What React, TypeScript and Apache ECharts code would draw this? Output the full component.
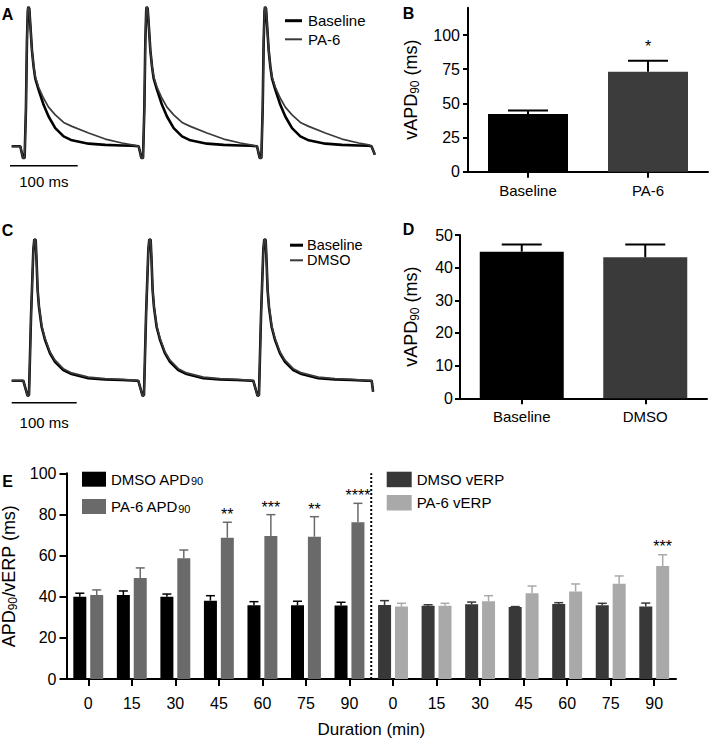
import React, { useEffect, useRef } from 'react';
import * as echarts from 'echarts';

const FONT = '"Liberation Sans", Arial, Helvetica, sans-serif';

// ---------- Panel A : one action potential ----------
// time in ms relative to the peak, amplitude in % of peak (rest = 0)
const beatATime = [-11.8, -7.9, -5.4, -3.4, -2.0, -0.7, 0, 1.5, 3.4, 5.4, 7.9, 10.3, 15.3, 22.6, 30.0, 39.9, 52.2, 64.5, 89.1, 113.7, 138.4, 153.1];
const beatABaseline = [0, -8.3, -8.3, 28, 75, 97, 100, 98.8, 84.5, 69, 57.1, 48.8, 40.5, 29.8, 21.4, 13.1, 7.1, 4.3, 1.9, 1.0, 0.6, 0.5];
const beatAPA6 = [0, -8.3, -8.3, 28, 75, 97, 100, 98.8, 84.5, 69, 57.6, 50, 42.4, 34.5, 28.1, 22.6, 17.1, 14.3, 9.5, 5.2, 2.4, 1.0];
const peaksA = [27.0, 201.9, 376.7];
const leadA = [[2.5, 0]];
const endA = [[534, 0], [539, -6]];

// ---------- Panel C ----------
const beatCTime = [-17, -10.3, -8.2, -5.1, -1.5, 0, 2.1, 3.6, 5.1, 7.2, 11.3, 16.4, 24.1, 31.8, 44.6, 57.4, 83.1, 108.7, 134.4, 158];
const beatCBaseline = [0, -10.8, -10.1, 45, 92.5, 100, 99.5, 83, 64, 52, 38, 29, 19.3, 13.4, 7.5, 4.7, 1.7, 0.9, 0.5, 0];
const beatCDMSO = [0, -10.8, -10.1, 45, 92.5, 100, 99.5, 83, 64.5, 53, 39, 30, 20.5, 14.5, 8.5, 5.5, 2.5, 1.5, 1.0, 0.3];
const peaksC = [34.8, 211.7, 388.6];
const leadC = [[0, 0]];
const endC = [[553.8, 0], [556, -7.8]];

// ---------- Panel B ----------
const bCats = ['Baseline', 'PA-6'];
const bMean = [42.3, 73.2];
const bSem = [2.4, 8.0];
const bStars = ['', '*'];
const bTicks = [0, 25, 50, 75, 100];

// ---------- Panel D ----------
const dCats = ['Baseline', 'DMSO'];
const dMean = [44.9, 43.2];
const dSem = [2.2, 3.9];

// ---------- Panel E ----------
const durations = ['0', '15', '30', '45', '60', '75', '90'];
const dmsoApd = [40.0, 40.8, 40.0, 38.1, 35.8, 35.8, 35.7];
const dmsoApdSem = [1.7, 2.0, 1.3, 2.4, 1.8, 2.0, 1.6];
const pa6Apd = [40.8, 49.1, 58.7, 68.7, 69.5, 69.2, 76.2];
const pa6ApdSem = [2.5, 4.9, 4.0, 7.5, 10.4, 9.7, 9.2];
const pa6ApdStars = ['', '', '', '**', '***', '**', '****'];
const dmsoErp = [36.0, 35.6, 36.3, 35.0, 36.5, 35.8, 35.2];
const dmsoErpSem = [2.1, 0.5, 1.1, 0.2, 0.6, 1.0, 1.7];
const pa6Erp = [35.2, 35.6, 37.8, 41.7, 42.5, 46.3, 54.9];
const pa6ErpSem = [1.6, 1.2, 2.7, 3.5, 3.7, 3.8, 5.5];
const pa6ErpStars = ['', '', '', '', '', '', '***'];

function buildTrace(lead: number[][], peaks: number[], times: number[], values: number[], end: number[][]) {
  const pts: number[][] = lead.map((p) => [...p]);
  peaks.forEach((p) => times.forEach((t, i) => pts.push([p + t, values[i]])));
  end.forEach((p) => pts.push([...p]));
  return pts;
}

function errorSeries(
  xAxisIndex: number, yAxisIndex: number, items: number[][], offset: number, color: string,
  capHalf: number, lineWidth: number, stars: string[] | null, starGap: number, starSize: number,
) {
  return {
    type: 'custom', xAxisIndex, yAxisIndex, silent: true, z: 5,
    data: items,
    renderItem: (params: any, api: any) => {
      const c = api.value(0), m = api.value(1), top = api.value(2);
      const pm = api.coord([c, m]);
      const pt = api.coord([c, top]);
      const x = pm[0] + offset;
      const style = { stroke: color, lineWidth };
      const children: any[] = [
        { type: 'line', shape: { x1: x, y1: pm[1], x2: x, y2: pt[1] }, style },
        { type: 'line', shape: { x1: x - capHalf, y1: pt[1], x2: x + capHalf, y2: pt[1] }, style },
      ];
      const s = stars ? stars[params.dataIndex] : '';
      if (s) {
        children.push({
          type: 'text',
          style: { text: s, x, y: pt[1] - starGap, align: 'center', verticalAlign: 'middle', fontSize: starSize, fontFamily: FONT, fill: '#000' },
        });
      }
      return { type: 'group', children };
    },
  };
}

function scaleBarSeries(xAxisIndex: number, yAxisIndex: number, bar: number[], labelGap: number) {
  return {
    type: 'custom', xAxisIndex, yAxisIndex, silent: true, z: 5,
    data: [bar],
    renderItem: (params: any, api: any) => {
      const p0 = api.coord([api.value(0), api.value(2)]);
      const p1 = api.coord([api.value(1), api.value(2)]);
      return {
        type: 'group',
        children: [
          { type: 'line', shape: { x1: p0[0], y1: p0[1], x2: p1[0], y2: p1[1] }, style: { stroke: '#000', lineWidth: 1.6 } },
          { type: 'text', style: { text: `${api.value(1) - api.value(0)} ms`, x: (p0[0] + p1[0]) / 2, y: p0[1] + labelGap, align: 'center', verticalAlign: 'middle', fontSize: 15, fontFamily: FONT, fill: '#000' } },
        ],
      };
    },
  };
}

const axisLineStyle = { color: '#000', width: 2 };

export default function App() {
  const ref = useRef<HTMLDivElement>(null);
  useEffect(() => {
    if (!ref.current) return;
    const chart = echarts.init(ref.current, undefined, { renderer: 'svg' });

    const eCats = [...durations.map((d) => `APD90 ${d}`), ...durations.map((d) => `vERP ${d}`)];
    const n = durations.length;
    const blanks = durations.map(() => '-');
    const OFF = 8.45;

    const subRich = (size: number, subSize: number, lh: number, subLh: number) => ({
      n: { fontSize: size, fontFamily: FONT, color: '#000', lineHeight: lh },
      s: { fontSize: subSize, fontFamily: FONT, color: '#000', lineHeight: subLh, verticalAlign: 'bottom' },
    });

    const catAxis = (gridIndex: number, data: string[], labelSize: number, margin: number, tickLen: number, formatter?: any) => ({
      type: 'category', gridIndex, data,
      axisLine: { show: true, lineStyle: axisLineStyle },
      axisTick: { show: true, alignWithLabel: true, length: tickLen, lineStyle: { color: '#000', width: 2 } },
      axisLabel: { show: true, interval: 0, fontSize: labelSize, fontFamily: FONT, color: '#000', margin, formatter },
      splitLine: { show: false },
    });

    const valAxis = (gridIndex: number, min: number, max: number, interval: number, labelSize: number, margin: number, tickLen: number) => ({
      type: 'value', gridIndex, min, max, interval,
      axisLine: { show: true, lineStyle: axisLineStyle },
      axisTick: { show: true, length: tickLen, lineStyle: { color: '#000', width: 2 } },
      axisLabel: { show: true, fontSize: labelSize, fontFamily: FONT, color: '#000', margin },
      splitLine: { show: false },
    });

    const bY: any = valAxis(1, 0, 120, 25, 16, 8, 5);
    bY.axisLabel.customValues = bTicks;
    bY.axisTick.customValues = bTicks;
    bY.name = '{n|vAPD}{s|90}{n| (ms)}';
    bY.nameLocation = 'middle';
    bY.nameGap = 47;
    bY.nameRotate = 90;
    bY.nameTextStyle = { rich: subRich(18, 12, 20, 8) };

    const dY: any = valAxis(3, 0, 50, 10, 16, 7, 5);
    dY.name = '{n|vAPD}{s|90}{n| (ms)}';
    dY.nameLocation = 'middle';
    dY.nameGap = 39;
    dY.nameRotate = 90;
    dY.nameTextStyle = { rich: subRich(18, 12, 20, 8) };

    const eY: any = valAxis(4, 0, 100, 20, 16, 10, 7);
    eY.name = '{n|APD}{s|90}{n|/vERP (ms)}';
    eY.nameLocation = 'middle';
    eY.nameGap = 43;
    eY.nameRotate = 90;
    eY.nameTextStyle = { rich: subRich(18, 12, 20, 8) };

    const eX: any = catAxis(4, eCats, 16, 16, 7, (v: string) => v.split(' ')[1]);
    eX.name = 'Duration (min)';
    eX.nameLocation = 'middle';
    eX.nameGap = 42;
    eX.nameTextStyle = { fontSize: 17, fontFamily: FONT, color: '#000' };

    const legendFormatter = (name: string) =>
      name.endsWith('APD90') ? `{n|${name.slice(0, -2)}}{s|90}` : `{n|${name}}`;

    const option: any = {
      animation: false,
      backgroundColor: '#fff',
      textStyle: { fontFamily: FONT },
      grid: [
        { left: 10, top: 0, width: 390, height: 170, outerBoundsMode: 'none' },
        { left: 468, top: 7.7, width: 240, height: 164, outerBoundsMode: 'none' },
        { left: 11.7, top: 225, width: 388, height: 185, outerBoundsMode: 'none' },
        { left: 460, top: 235, width: 247, height: 163.3, outerBoundsMode: 'none' },
        { left: 66.5, top: 473.3, width: 609.5, height: 205.7, outerBoundsMode: 'none' },
      ],
      xAxis: [
        { type: 'value', gridIndex: 0, min: 0, max: 576.1, show: false },
        catAxis(1, bCats, 15, 11, 6),
        { type: 'value', gridIndex: 2, min: 0, max: 596.9, show: false },
        catAxis(3, dCats, 15, 11, 6),
        eX,
      ],
      yAxis: [
        { type: 'value', gridIndex: 0, min: -17, max: 105, show: false },
        bY,
        { type: 'value', gridIndex: 2, min: -20.7, max: 110.1, show: false },
        dY,
        eY,
      ],
      legend: [
        {
          data: ['DMSO APD90', 'PA-6 APD90'], left: 82, top: 471.7, orient: 'vertical', icon: 'rect',
          itemWidth: 24, itemHeight: 15, itemGap: 12.3, padding: 0, selectedMode: false,
          formatter: legendFormatter,
          textStyle: { color: '#000', fontSize: 15, fontFamily: FONT, lineHeight: 15, rich: subRich(15, 11, 15, 4) },
        },
        {
          data: ['DMSO vERP', 'PA-6 vERP'], left: 386.7, top: 471.7, orient: 'vertical', icon: 'rect',
          itemWidth: 25, itemHeight: 15.5, itemGap: 7.8, padding: 0, selectedMode: false,
          formatter: legendFormatter,
          textStyle: { color: '#000', fontSize: 15, fontFamily: FONT, lineHeight: 15, rich: subRich(15, 11, 15, 4) },
        },
      ],
      series: [
        // Panel A traces
        { name: 'A Baseline', type: 'line', xAxisIndex: 0, yAxisIndex: 0, symbol: 'none', silent: true,
          data: buildTrace(leadA, peaksA, beatATime, beatABaseline, endA), lineStyle: { color: '#000', width: 2.6 } },
        { name: 'A PA-6', type: 'line', xAxisIndex: 0, yAxisIndex: 0, symbol: 'none', silent: true,
          data: buildTrace(leadA, peaksA, beatATime, beatAPA6, endA), lineStyle: { color: '#3a3a3a', width: 1.7 } },
        scaleBarSeries(0, 0, [0, 100, -14], 16),
        // Panel C traces
        { name: 'C Baseline', type: 'line', xAxisIndex: 2, yAxisIndex: 2, symbol: 'none', silent: true,
          data: buildTrace(leadC, peaksC, beatCTime, beatCBaseline, endC), lineStyle: { color: '#000', width: 2.6 } },
        { name: 'C DMSO', type: 'line', xAxisIndex: 2, yAxisIndex: 2, symbol: 'none', silent: true,
          data: buildTrace(leadC, peaksC, beatCTime, beatCDMSO, endC), lineStyle: { color: '#3a3a3a', width: 1.7 } },
        scaleBarSeries(2, 2, [0, 100, -15.6], 20),
        // Panel B
        { name: 'B', type: 'bar', xAxisIndex: 1, yAxisIndex: 1, barWidth: 80, silent: true,
          data: bMean.map((v, i) => ({ value: v, itemStyle: { color: i === 0 ? '#000' : '#3c3c3c' } })) },
        errorSeries(1, 1, bMean.map((v, i) => [i, v, v + bSem[i]]), 0, '#000', 20, 2, bStars, 14, 16),
        // Panel D
        { name: 'D', type: 'bar', xAxisIndex: 3, yAxisIndex: 3, barWidth: 84, silent: true,
          data: dMean.map((v, i) => ({ value: v, itemStyle: { color: i === 0 ? '#000' : '#3a3a3a' } })) },
        errorSeries(3, 3, dMean.map((v, i) => [i, v, v + dSem[i]]), 0, '#000', 20, 2, null, 0, 15),
        // Panel E
        { name: 'DMSO APD90', type: 'bar', xAxisIndex: 4, yAxisIndex: 4, stack: 'dmso', barWidth: 13, barGap: '30%',
          itemStyle: { color: '#000' }, data: [...dmsoApd, ...blanks] },
        { name: 'PA-6 APD90', type: 'bar', xAxisIndex: 4, yAxisIndex: 4, stack: 'pa6', barWidth: 13, barGap: '30%',
          itemStyle: { color: '#6a6a6a' }, data: [...pa6Apd, ...blanks] },
        { name: 'DMSO vERP', type: 'bar', xAxisIndex: 4, yAxisIndex: 4, stack: 'dmso', barWidth: 13, barGap: '30%',
          itemStyle: { color: '#383838' }, data: [...blanks, ...dmsoErp] },
        { name: 'PA-6 vERP', type: 'bar', xAxisIndex: 4, yAxisIndex: 4, stack: 'pa6', barWidth: 13, barGap: '30%',
          itemStyle: { color: '#a9a9a9' }, data: [...blanks, ...pa6Erp] },
        errorSeries(4, 4, dmsoApd.map((v, i) => [i, v, v + dmsoApdSem[i]]), -OFF, '#000', 4.5, 1.5, null, 0, 16),
        errorSeries(4, 4, pa6Apd.map((v, i) => [i, v, v + pa6ApdSem[i]]), OFF, '#6a6a6a', 4.5, 1.5, pa6ApdStars, 7.5, 16),
        errorSeries(4, 4, dmsoErp.map((v, i) => [i + n, v, v + dmsoErpSem[i]]), -OFF, '#383838', 4.5, 1.5, null, 0, 16),
        errorSeries(4, 4, pa6Erp.map((v, i) => [i + n, v, v + pa6ErpSem[i]]), OFF, '#a9a9a9', 4.5, 1.5, pa6ErpStars, 8.5, 16),
        // dotted separator between the APD90 and vERP groups
        {
          type: 'custom', xAxisIndex: 4, yAxisIndex: 4, silent: true, z: 4,
          data: [[n - 1, n, 0, 100]],
          renderItem: (params: any, api: any) => {
            const a = api.coord([api.value(0), api.value(2)]);
            const b = api.coord([api.value(1), api.value(3)]);
            const x = (a[0] + b[0]) / 2;
            return { type: 'line', shape: { x1: x, y1: a[1], x2: x, y2: b[1] }, style: { stroke: '#000', lineWidth: 2, lineDash: [2, 2] } };
          },
        },
      ],
      graphic: [
        { type: 'text', style: { text: 'A', x: 7.5, y: 14, align: 'center', verticalAlign: 'middle', fontSize: 16, fontWeight: 'bold', fontFamily: FONT, fill: '#000' } },
        { type: 'text', style: { text: 'B', x: 408.5, y: 13.3, align: 'center', verticalAlign: 'middle', fontSize: 16, fontWeight: 'bold', fontFamily: FONT, fill: '#000' } },
        { type: 'text', style: { text: 'C', x: 7.5, y: 230, align: 'center', verticalAlign: 'middle', fontSize: 16, fontWeight: 'bold', fontFamily: FONT, fill: '#000' } },
        { type: 'text', style: { text: 'D', x: 408.5, y: 229, align: 'center', verticalAlign: 'middle', fontSize: 16, fontWeight: 'bold', fontFamily: FONT, fill: '#000' } },
        { type: 'text', style: { text: 'E', x: 7.5, y: 481, align: 'center', verticalAlign: 'middle', fontSize: 16, fontWeight: 'bold', fontFamily: FONT, fill: '#000' } },
        // legend A
        { type: 'line', shape: { x1: 285, y1: 20.7, x2: 302, y2: 20.7 }, style: { stroke: '#000', lineWidth: 3 } },
        { type: 'line', shape: { x1: 285, y1: 39.3, x2: 302, y2: 39.3 }, style: { stroke: '#3a3a3a', lineWidth: 2 } },
        { type: 'text', style: { text: 'Baseline', x: 308, y: 20.7, verticalAlign: 'middle', fontSize: 15, fontFamily: FONT, fill: '#000' } },
        { type: 'text', style: { text: 'PA-6', x: 308, y: 39.3, verticalAlign: 'middle', fontSize: 15, fontFamily: FONT, fill: '#000' } },
        // legend C
        { type: 'line', shape: { x1: 290, y1: 245.2, x2: 303, y2: 245.2 }, style: { stroke: '#000', lineWidth: 3 } },
        { type: 'line', shape: { x1: 290, y1: 260.3, x2: 303, y2: 260.3 }, style: { stroke: '#3a3a3a', lineWidth: 2 } },
        { type: 'text', style: { text: 'Baseline', x: 307, y: 245.2, verticalAlign: 'middle', fontSize: 14.5, lineHeight: 14.5, fontFamily: FONT, fill: '#000' } },
        { type: 'text', style: { text: 'DMSO', x: 307, y: 260.3, verticalAlign: 'middle', fontSize: 14.5, lineHeight: 14.5, fontFamily: FONT, fill: '#000' } },
      ],
    };

    chart.setOption(option);
    return () => chart.dispose();
  }, []);

  return <div ref={ref} style={{ position: 'fixed', left: 0, top: 0, width: 709, height: 739, background: '#fff' }} />;
}
